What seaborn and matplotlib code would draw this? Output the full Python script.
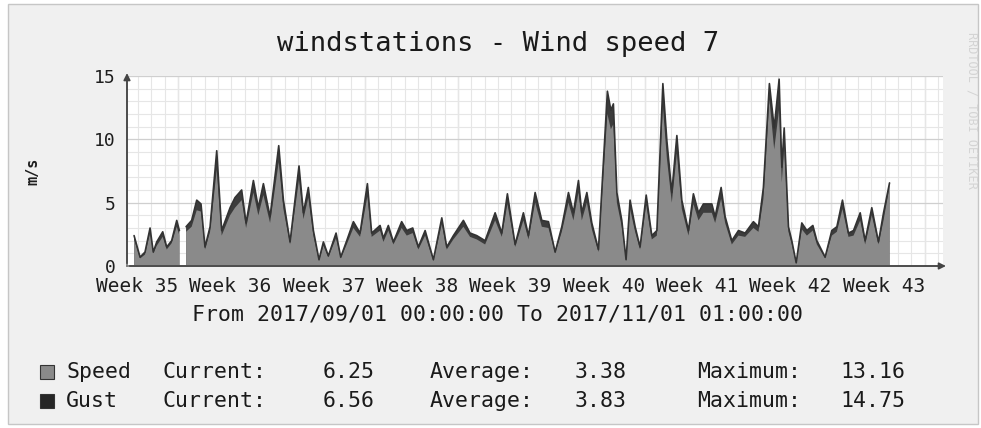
import numpy as np
import pandas as pd
import seaborn as sns
import matplotlib.pyplot as plt
from matplotlib.patches import Rectangle

# time in days since 2017/09/01 00:00, values in m/s
days = [0.53, 0.98, 1.35, 1.73, 1.97, 2.23, 2.68, 2.98, 3.35, 3.73, 3.93, 4.10,
        4.43, 4.85, 5.23, 5.55, 5.85, 6.23, 6.73, 7.10, 7.73, 8.10, 8.60, 8.93,
        9.48, 9.85, 10.23, 10.73, 11.38, 11.73, 12.23, 12.90, 13.23, 13.60, 13.98,
        14.40, 14.73, 15.10, 15.68, 16.03, 16.48, 16.98, 17.48, 18.03, 18.35, 18.98,
        19.23, 19.60, 19.98, 20.60, 20.98, 21.43, 21.85, 22.36, 22.98, 23.61, 23.98,
        24.48, 25.23, 25.73, 26.23, 26.86, 27.61, 28.11, 28.53, 29.11, 29.73, 30.11,
        30.61, 31.11, 31.61, 32.11, 32.61, 33.11, 33.48, 33.86, 34.11, 34.49, 34.86,
        35.36, 36.03, 36.29, 36.48, 36.74, 37.11, 37.43, 37.73, 38.11, 38.48, 38.94,
        39.36, 39.74, 40.19, 40.49, 40.86, 41.24, 41.61, 42.11, 42.48, 42.86, 43.23,
        43.86, 44.11, 44.56, 44.86, 45.36, 45.86, 46.36, 46.98, 47.36, 47.73, 48.18,
        48.54, 48.91, 49.11, 49.29, 49.61, 49.86, 50.19, 50.61, 50.99, 51.44, 51.74,
        52.36, 52.86, 53.24, 53.66, 54.11, 54.49, 54.99, 55.36, 55.86, 56.36, 56.74,
        57.19]
gust = [2.4, 0.7, 1.1, 3.0, 1.1, 1.9, 2.7, 1.5, 2.0, 3.6, 2.8, np.nan,
        3.1, 3.6, 5.2, 4.9, 1.5, 3.1, 9.1, 2.8, 4.6, 5.4, 6.0, 3.4,
        6.75, 4.6, 6.5, 3.9, 9.5, 5.2, 1.9, 7.9, 4.2, 6.2, 2.8,
        0.5, 1.9, 0.8, 2.6, 0.7, 2.0, 3.5, 2.6, 6.5, 2.6, 3.2,
        2.2, 3.2, 1.9, 3.5, 2.8, 3.0, 1.5, 2.8, 0.5, 3.8, 1.5,
        2.4, 3.6, 2.6, 2.4, 2.0, 4.2, 2.6, 5.7, 1.7, 4.2, 2.4,
        5.8, 3.6, 3.5, 1.1, 3.1, 5.8, 4.2, 6.75, 4.2, 5.8, 3.4,
        1.3, 13.8, 12.3, 12.8, 5.8, 3.6, 0.5, 5.2, 3.1, 1.5, 5.6,
        2.4, 2.8, 14.4, 9.9, 5.8, 10.3, 5.2, 2.8, 5.7, 4.2, 4.9,
        4.9, 3.9, 6.2, 3.9, 2.0, 2.8, 2.6, 3.5, 3.1, 6.2, 14.4,
        10.9, 14.75, 7.8, 10.9, 3.1, 2.0, 0.25, 3.4, 2.8, 3.2, 2.0,
        0.7, 2.8, 3.1, 5.2, 2.6, 2.8, 4.2, 2.0, 4.6, 1.9, 4.2,
        6.56]
speed = [2.1, 0.6, 0.9, 2.6, 1.0, 1.6, 2.3, 1.3, 1.8, 3.1, 2.4, np.nan,
         2.7, 3.1, 4.4, 4.3, 1.3, 2.7, 7.6, 2.4, 4.0, 4.6, 5.2, 3.0,
         5.8, 4.0, 5.6, 3.4, 8.2, 4.5, 1.7, 6.8, 3.7, 5.4, 2.4,
         0.4, 1.6, 0.7, 2.2, 0.6, 1.7, 3.0, 2.3, 5.5, 2.3, 2.8,
         1.9, 2.8, 1.7, 3.0, 2.4, 2.6, 1.3, 2.4, 0.4, 3.3, 1.3,
         2.1, 3.1, 2.3, 2.1, 1.7, 3.6, 2.3, 4.9, 1.5, 3.6, 2.1,
         5.0, 3.1, 3.0, 1.0, 2.7, 5.0, 3.6, 5.8, 3.6, 5.0, 2.9,
         1.1, 12.0, 10.8, 11.2, 5.0, 3.1, 0.4, 4.5, 2.7, 1.3, 4.8,
         2.1, 2.4, 12.6, 8.5, 5.0, 8.9, 4.5, 2.4, 4.9, 3.6, 4.2,
         4.2, 3.4, 5.3, 3.4, 1.7, 2.4, 2.3, 3.0, 2.7, 5.3, 13.16,
         9.2, 12.4, 6.6, 9.4, 2.7, 1.7, 0.2, 2.9, 2.4, 2.8, 1.7,
         0.6, 2.4, 2.7, 4.5, 2.3, 2.4, 3.6, 1.7, 4.0, 1.7, 3.6,
         6.25]

week_labels = ["Week 35", "Week 36", "Week 37", "Week 38", "Week 39",
               "Week 40", "Week 41", "Week 42", "Week 43"]
period_days = 61.2
first_week_line = 3.83   # first Monday grid line, days from start
first_label = 0.75

legend_rows = [
    ("Speed", "#8a8a8a", "6.25", "3.38", "13.16"),
    ("Gust", "#262626", "6.56", "3.83", "14.75"),
]

df = pd.DataFrame({"day": days, "speed": speed, "gust": gust})
df["segment"] = df["gust"].isna().cumsum()

sns.set_style("white")
plt.rcParams["font.family"] = ["DejaVu Sans Mono"]

W, H = 981, 428
fig = plt.figure(figsize=(W / 100, H / 100), dpi=100, facecolor="white")
fig.patches.append(Rectangle((8 / W, 4 / H), 970 / W, 420 / H, transform=fig.transFigure,
                             facecolor="#f0f0f0", edgecolor="#c6c6c6", lw=1, zorder=-10))
ax = fig.add_axes([127 / W, 1 - 266 / H, (943 - 127) / W, (266 - 76) / H])
ax.set_facecolor("white")

# areas: gust behind, speed in front
ax.fill_between(df["day"], 0, df["gust"], color="#3c3c3c", lw=0, zorder=2)
ax.fill_between(df["day"], 0, df["speed"], color="#8a8a8a", lw=0, zorder=3)
sns.lineplot(data=df.dropna(), x="day", y="gust", units="segment", estimator=None,
             color="#333333", lw=1.2, ax=ax, legend=False, zorder=4)

ax.set_xlim(0, period_days)
ax.set_ylim(0, 15)

# grid
ax.set_xticks(np.arange(first_week_line - 3, period_days, 1), minor=True)
ax.set_yticks(np.arange(0, 16, 1), minor=True)
ax.grid(which="minor", color="#e6e6e6", lw=0.8)
ax.grid(which="major", axis="y", color="#cfcfcf", lw=0.9)
for d in np.arange(first_week_line, period_days, 7):
    ax.axvline(d, color="#cfcfcf", lw=0.9, zorder=0.5)
ax.set_axisbelow(True)

ax.set_xticks(first_label + 7 * np.arange(len(week_labels)))
ax.set_xticklabels(week_labels)
ax.set_yticks([0, 5, 10, 15])
ax.tick_params(axis="x", which="both", length=0, pad=8, labelsize=14, labelcolor="#1e1e1e")
ax.tick_params(axis="y", which="major", length=4, width=1, color="#888888", pad=4,
               labelsize=13, labelcolor="#1e1e1e")
ax.tick_params(axis="y", which="minor", length=0)
ax.set_xlabel("")
ax.set_ylabel("")

for s in ["top", "right"]:
    ax.spines[s].set_visible(False)
for s in ["left", "bottom"]:
    ax.spines[s].set_color("#777777")
    ax.spines[s].set_linewidth(1.2)
ax.annotate("", xy=(1.007, 0), xytext=(0, 0), xycoords="axes fraction",
            arrowprops=dict(arrowstyle="-|>", color="#444444", lw=1.2, mutation_scale=10))
ax.annotate("", xy=(0, 1.03), xytext=(0, 0), xycoords="axes fraction",
            arrowprops=dict(arrowstyle="-|>", color="#444444", lw=1.2, mutation_scale=10))


def fx(x):
    return x / W


def fy(y):
    return 1 - y / H


fig.text(fx(498), fy(44), "windstations - Wind speed 7", ha="center", va="center",
         fontsize=19.5, color="#1a1a1a")
fig.text(fx(33), fy(171), "m/s", rotation=90, ha="center", va="center",
         fontsize=11, color="#1e1e1e", fontweight="bold")
fig.text(fx(498), fy(315), "From 2017/09/01 00:00:00 To 2017/11/01 01:00:00",
         ha="center", va="center", fontsize=15.5, color="#1a1a1a")
fig.text(fx(972), fy(110), "RRDTOOL / TOBI OETIKER", rotation=270, ha="center",
         va="center", fontsize=8.5, color="#d4d4d4")

for i, (name, col, cur, avg, mx) in enumerate(legend_rows):
    y = 372 + 29 * i
    fig.patches.append(Rectangle((fx(40), fy(y + 7)), 14 / W, 14 / H, transform=fig.transFigure,
                                 facecolor=col, edgecolor="#333333", lw=0.8))
    for x, t in [(66, name), (163, "Current:"), (430, "Average:"), (697, "Maximum:")]:
        fig.text(fx(x), fy(y), t, ha="left", va="center", fontsize=15.5, color="#1a1a1a")
    for x, t in [(375, cur), (627, avg), (905, mx)]:
        fig.text(fx(x), fy(y), t, ha="right", va="center", fontsize=15.5, color="#1a1a1a")

fig.savefig("out.png", dpi=100, facecolor=fig.get_facecolor())
